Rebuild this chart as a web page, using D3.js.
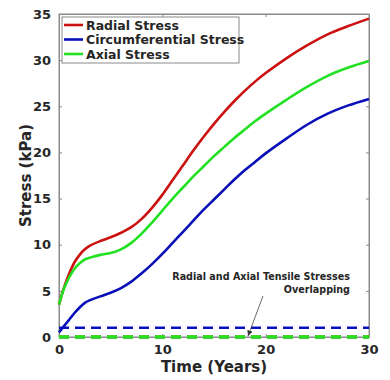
<!DOCTYPE html>
<html>
<head>
<meta charset="utf-8">
<script src="https://cdn.jsdelivr.net/npm/d3@7"></script>
<style>
  html, body { margin: 0; padding: 0; background: #fff; }
  svg { display: block; font-family: "DejaVu Sans", sans-serif; }
</style>
</head>
<body>
<svg id="chart" width="390" height="380"></svg>
<script>
const years = [0,0.5,1,1.5,2,2.5,3,4,5,6,7,8,9,10,11,12,13,14,15,16,17,18,19,20,22,24,26,28,30];
const radialStress = [3.5,5.4,6.9,8.1,8.9,9.5,9.9,10.4,10.8,11.3,11.9,12.8,14.0,15.4,17.0,18.6,20.2,21.7,23.1,24.4,25.6,26.7,27.7,28.6,30.2,31.6,32.8,33.7,34.5];
const circumferentialStress = [0.5,1.2,1.9,2.6,3.2,3.7,4.0,4.4,4.8,5.3,6.0,6.9,7.9,9.0,10.2,11.4,12.6,13.8,14.9,16.0,17.1,18.1,19.0,19.9,21.5,23.0,24.2,25.1,25.8];
const axialStress = [3.5,5.3,6.5,7.4,8.0,8.4,8.6,8.9,9.1,9.5,10.2,11.2,12.4,13.7,15.0,16.2,17.4,18.5,19.6,20.6,21.6,22.5,23.4,24.2,25.7,27.1,28.3,29.2,29.9];
const tensileYears = [0, 30];
const radialTensile = [0, 0];
const circumferentialTensile = [1, 1];
const axialTensile = [0, 0];
const xTicks = [0, 10, 20, 30];
const yTicks = [0, 5, 10, 15, 20, 25, 30, 35];
const legendLabels = ["Radial Stress", "Circumferential Stress", "Axial Stress"];
const colors = ["#cc1111", "#0a10b8", "#22e022"];
const annotationLines = ["Radial and Axial Tensile Stresses", "Overlapping"];

const svg = d3.select("#chart");
const L = 59, R = 369, T = 14, B = 337;
const x = d3.scaleLinear().domain([0, 30]).range([L, R]);
const y = d3.scaleLinear().domain([0, 35]).range([B, T]);
const axisColor = "#8a8a8a";
const textColor = "#262626";

// frame
svg.append("rect").attr("x", L).attr("y", T).attr("width", R - L).attr("height", B - T)
  .attr("fill", "none").attr("stroke", axisColor).attr("stroke-width", 1);

// axes
const xAxisB = d3.axisBottom(x).tickValues(xTicks).tickSizeInner(-3).tickSizeOuter(0).tickPadding(8);
const gx = svg.append("g").attr("transform", `translate(0,${B})`).call(xAxisB);
const xAxisT = d3.axisTop(x).tickValues(xTicks).tickSizeInner(-3).tickSizeOuter(0).tickFormat("");
const gxt = svg.append("g").attr("transform", `translate(0,${T})`).call(xAxisT);
const yAxisL = d3.axisLeft(y).tickValues(yTicks).tickSizeInner(-3).tickSizeOuter(0).tickPadding(8);
const gy = svg.append("g").attr("transform", `translate(${L},0)`).call(yAxisL);
const yAxisR = d3.axisRight(y).tickValues(yTicks).tickSizeInner(-3).tickSizeOuter(0).tickFormat("");
const gyr = svg.append("g").attr("transform", `translate(${R},0)`).call(yAxisR);
[gx, gxt, gy, gyr].forEach(g => {
  g.select(".domain").attr("stroke", axisColor);
  g.selectAll(".tick line").attr("stroke", axisColor);
  g.selectAll("text").attr("fill", textColor).attr("font-size", 13)
    .attr("font-weight", "bold").attr("font-family", "DejaVu Sans, sans-serif");
});

// tensile dashed lines
const line2 = (ys) => d3.line().x((d, i) => x(tensileYears[i])).y((d) => y(d))(ys);
svg.append("path").attr("d", line2(radialTensile)).attr("fill", "none")
  .attr("stroke", colors[0]).attr("stroke-width", 3).attr("stroke-dasharray", "10,6");
svg.append("path").attr("d", line2(circumferentialTensile)).attr("fill", "none")
  .attr("stroke", colors[1]).attr("stroke-width", 2.5).attr("stroke-dasharray", "10,6");
svg.append("path").attr("d", line2(axialTensile)).attr("fill", "none")
  .attr("stroke", colors[2]).attr("stroke-width", 3.5).attr("stroke-dasharray", "10,6");

// main curves
const line = d3.line().x((d, i) => x(years[i])).y(d => y(d)).curve(d3.curveCatmullRom.alpha(0.5));
[radialStress, circumferentialStress, axialStress].forEach((s, i) => {
  svg.append("path").attr("d", line(s)).attr("fill", "none")
    .attr("stroke", colors[i]).attr("stroke-width", 2.6).attr("stroke-linejoin", "round");
});

// legend
const lg = svg.append("g");
lg.append("rect").attr("x", 62).attr("y", 17).attr("width", 177).attr("height", 46)
  .attr("fill", "#fff").attr("stroke", axisColor).attr("stroke-width", 1);
legendLabels.forEach((lab, i) => {
  const yy = 25 + i * 14.5;
  lg.append("line").attr("x1", 64).attr("x2", 83).attr("y1", yy).attr("y2", yy)
    .attr("stroke", colors[i]).attr("stroke-width", 2.6);
  lg.append("text").attr("x", 86).attr("y", yy + 4.5).text(lab)
    .attr("font-size", 12.5).attr("font-weight", "bold").attr("fill", textColor);
});

// annotation
annotationLines.forEach((t, i) => {
  svg.append("text").attr("x", 350).attr("y", 280 + i * 13).attr("text-anchor", "end")
    .attr("font-size", 9.6).attr("font-weight", "bold").attr("fill", textColor).text(t);
});
svg.append("defs").append("marker").attr("id", "arr").attr("viewBox", "0 0 10 10")
  .attr("refX", 10).attr("refY", 5).attr("markerWidth", 7).attr("markerHeight", 7)
  .attr("orient", "auto").append("path").attr("d", "M0,0 L10,5 L0,10 z").attr("fill", "#333");
svg.append("line").attr("x1", 263).attr("y1", 296).attr("x2", 248).attr("y2", 336)
  .attr("stroke", "#444").attr("stroke-width", 0.8).attr("marker-end", "url(#arr)");

// axis labels
svg.append("text").attr("x", (L + R) / 2).attr("y", 372).attr("text-anchor", "middle")
  .attr("font-size", 15).attr("font-weight", "bold").attr("fill", textColor).text("Time (Years)");
svg.append("text").attr("transform", `translate(31,${(T + B) / 2}) rotate(-90)`)
  .attr("text-anchor", "middle").attr("font-size", 15).attr("font-weight", "bold")
  .attr("fill", textColor).text("Stress (kPa)");
</script>
</body>
</html>
